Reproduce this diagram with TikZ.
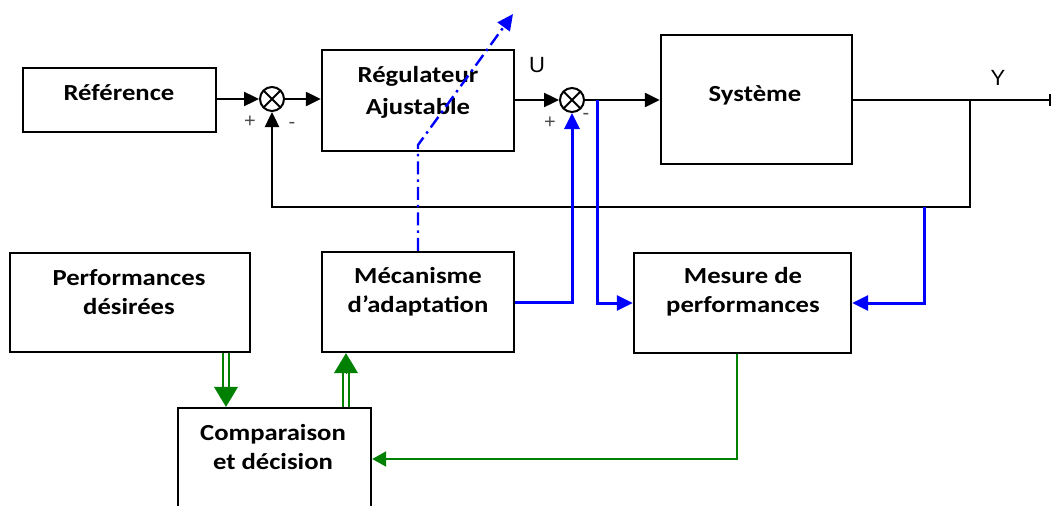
\documentclass[tikz,border=0pt]{standalone}
\usepackage{fontspec}
\usetikzlibrary{arrows.meta,positioning}
\newfontfamily\blockfont[FakeStretch=1.16]{Carlito}
\newfontfamily\signalfont{Liberation Sans}
\definecolor{sigblue}{RGB}{0,0,255}
\definecolor{decgreen}{RGB}{0,128,0}
\tikzset{
  block/.style={draw, line width=2.4pt, inner sep=0pt},
  blocktext/.style={font=\blockfont\bfseries\fontsize{23}{29}\selectfont, align=center, inner sep=0pt},
  sumnode/.style={circle, draw, line width=2pt, minimum size=24pt, inner sep=0pt,
    path picture={\draw[line width=2pt] (path picture bounding box.south west) -- (path picture bounding box.north east)
      (path picture bounding box.north west) -- (path picture bounding box.south east);}},
  sig/.style={line width=2.4pt, -{Triangle[length=15pt,width=14pt]}},
  bsig/.style={sigblue, line width=3pt, -{Triangle[length=16pt,width=15pt]}},
  gsig/.style={decgreen, line width=2.2pt, -{Triangle[length=14pt,width=15pt]}},
  dbl/.style={decgreen, line width=2pt, double=white, double distance=3.5pt},
  dblhead/.style={decgreen, line width=0.5pt, -{Triangle[length=20pt,width=24pt]}},
  adapt/.style={sigblue, line width=2.4pt, dash pattern=on 13pt off 5pt on 2.5pt off 5pt, -{Triangle[length=16pt,width=15pt]}},
  sign/.style={font=\signalfont\fontsize{20}{20}\selectfont, text=black!70, inner sep=0pt},
  signame/.style={font=\signalfont\fontsize{22}{22}\selectfont, inner sep=0pt}
}
\begin{document}
\begin{tikzpicture}[x=1pt, y=-1pt]
  \useasboundingbox (0,0) rectangle (1053,506);
  \clip (0,0) rectangle (1053,506);
  % blocks
  \node[block, minimum width=193pt, minimum height=64pt] (ref) at (119.5,100) {};
  \node[block, minimum width=192pt, minimum height=101pt] (reg) at (418,100.5) {};
  \node[block, minimum width=191pt, minimum height=129pt] (sys) at (756.5,99.5) {};
  \node[block, minimum width=240pt, minimum height=99pt] (perf) at (130,302.5) {};
  \node[block, minimum width=192pt, minimum height=100pt] (meca) at (418,302) {};
  \node[block, minimum width=217pt, minimum height=100pt] (mes) at (742.5,303) {};
  \node[block, minimum width=193pt, minimum height=102pt] (comp) at (274.5,459) {};
  \node[blocktext] (reftxt) at (119,93) {Référence};
  \node[blocktext] (regtxt) at (418,92) {Régulateur\\[3pt]Ajustable};
  \node[blocktext] (systxt) at (755,95) {Système};
  \node[blocktext] (perftxt) at (129,292) {Performances\\désirées};
  \node[blocktext] (mecatxt) at (418,292) {Mécanisme\\d’adaptation};
  \node[blocktext] (mestxt) at (743,292) {Mesure de\\performances};
  \node[blocktext] (comptxt) at (273,447) {Comparaison\\et décision};
  % comparators
  \node[sumnode] (sum1) at (272,99) {};
  \node[sumnode] (sum2) at (572,100) {};
  \node[sign] (p1) at (250,122) {+};
  \node[sign] (m1) at (292,125) {-};
  \node[sign] (p2) at (550,123) {+};
  \node[sign] (m2) at (586,116) {-};
  \node[signame] (ulab) at (537,65) {U};
  \node[signame] (ylab) at (998,78) {Y};
  % main loop
  \coordinate (ytap) at (970,100);
  \coordinate (fb) at (970,207);
  \coordinate (yend) at (1051,100);
  \draw[sig] (ref.east |- sum1) -- (sum1.west);
  \draw[sig] (sum1.east) -- (sum1 -| reg.west);
  \draw[sig] (reg.east |- sum2) -- (sum2.west);
  \draw[sig] (sum2.east) -- (sum2 -| sys.west);
  \draw[line width=2.4pt, -{Bar[width=12pt,line width=2.5pt]}] (sys.east |- ytap) -- (yend);
  \draw[sig] (ytap) -- (fb) -| (sum1.south);
  % adaptation signals
  \coordinate (utap) at (597,100);
  \coordinate (ftap) at (924,207);
  \draw[bsig] (utap) |- (mes.west);
  \draw[bsig] (ftap) |- (mes.east);
  \draw[bsig] (meca.east) -| (sum2.south);
  \coordinate (bend) at (418,145);
  \coordinate (tip) at (513,14);
  \draw[adapt] (meca.north) -- (bend) -- (tip);
  % decision part
  \coordinate (d1) at ([xshift=96pt]perf.south);
  \coordinate (d1end) at (d1 |- comp.north);
  \coordinate (d2end) at ([xshift=-72pt]meca.south);
  \coordinate (d2) at (d2end |- comp.north);
  \draw[dbl, shorten >=18pt] (d1) -- (d1end);
  \draw[dblhead] ([yshift=20pt]d1end) -- (d1end);
  \draw[dbl, shorten >=18pt] (d2) -- (d2end);
  \draw[dblhead] ([yshift=-20pt]d2end) -- (d2end);
  \draw[gsig] ([xshift=-5.5pt]mes.south) |- (comp.east);
\end{tikzpicture}
\end{document}
